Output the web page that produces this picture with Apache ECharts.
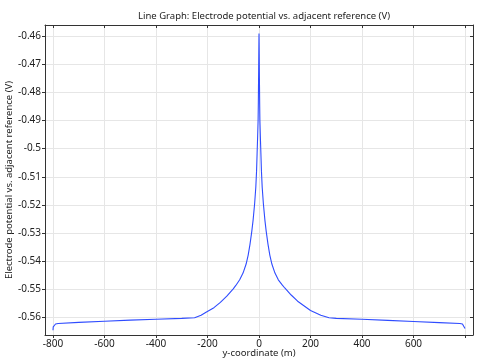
<!DOCTYPE html>
<html><head><meta charset="utf-8">
<script src="https://cdn.jsdelivr.net/npm/echarts@6/dist/echarts.min.js"></script>
<style>html,body{margin:0;padding:0;background:#fff}#c{width:480px;height:364px}</style>
</head><body><div id="c"></div>
<script>
var xValues = [-800,-799,-797,-790,-780,-700,-600,-500,-400,-300,-250,-225,-204,-175,-150,-125,-100,-90,-75,-62,-50,-42,-35,-28,-23,-17,-12.4,-9.5,-7.4,-5.2,-3.5,-2.6,-2,-1.3,-0.8,-0.4,0,0.4,0.8,1.3,2,2.6,3.5,5.2,7.4,9.5,12.4,17,23,28,35,42,50,62,75,90,100,125,150,200,240,272,300,400,500,600,700,780,790,797,800];
var potential = [-0.5645,-0.5633,-0.5626,-0.5623,-0.5621,-0.5617,-0.5613,-0.5609,-0.5606,-0.5603,-0.5601,-0.5592,-0.5580,-0.5565,-0.5546,-0.5524,-0.5498,-0.5486,-0.5466,-0.5442,-0.5410,-0.5378,-0.5340,-0.5294,-0.5255,-0.5196,-0.5137,-0.5080,-0.5018,-0.4955,-0.4900,-0.4840,-0.4782,-0.4720,-0.4664,-0.4625,-0.4591,-0.4625,-0.4664,-0.4720,-0.4782,-0.4840,-0.4900,-0.4955,-0.5018,-0.5080,-0.5137,-0.5196,-0.5255,-0.5294,-0.5340,-0.5378,-0.5410,-0.5442,-0.5466,-0.5484,-0.5495,-0.5520,-0.5542,-0.5575,-0.5592,-0.5601,-0.5603,-0.5606,-0.5610,-0.5614,-0.5618,-0.5621,-0.5623,-0.5627,-0.5639];
var xTicks = [-800,-600,-400,-200,0,200,400,600,800];
var xLabels = [-800,-600,-400,-200,0,200,400,600];
var yTicks = [-0.56,-0.55,-0.54,-0.53,-0.52,-0.51,-0.5,-0.49,-0.48,-0.47,-0.46];
var titleText = 'Line Graph: Electrode potential vs. adjacent reference (V)';
var xName = 'y-coordinate (m)';
var yName = 'Electrode potential vs. adjacent reference (V)';

var data = xValues.map(function(x,i){return [x, potential[i]];});
var font = 'Noto Sans';
var chart = echarts.init(document.getElementById('c'));
var axisLineStyle = {color:'#333', width:1};
chart.setOption({
  animation:false,
  title:{text:titleText,left:259,top:6,textAlign:'center',textStyle:{fontFamily:font,fontSize:9.5,fontWeight:'normal',color:'#222'}},
  grid:{left:45,right:7,top:25,bottom:29,containLabel:false,outerBoundsMode:'none'},
  xAxis:[{
    type:'value',min:-831,max:831,position:'bottom',
    name:xName,nameLocation:'middle',nameGap:13,nameMoveOverlap:false,nameTextStyle:{fontFamily:font,fontSize:9.5,color:'#222'},
    axisLine:{show:true,onZero:false,lineStyle:axisLineStyle},
    axisTick:{show:true,inside:false,length:3,customValues:xTicks,lineStyle:{color:'#333'}},
    axisLabel:{customValues:xLabels,fontFamily:font,fontSize:10,color:'#222',margin:4},
    splitLine:{show:true,lineStyle:{color:'#e6e6e6',width:1}}
  },{
    type:'value',min:-831,max:831,position:'top',
    axisLine:{show:true,onZero:false,lineStyle:axisLineStyle},
    axisTick:{show:true,inside:true,length:3,customValues:xTicks,lineStyle:{color:'#333'}},
    axisLabel:{show:false},splitLine:{show:false}
  }],
  yAxis:[{
    type:'value',min:-0.5662,max:-0.4561,position:'left',
    name:yName,nameLocation:'middle',nameGap:31,nameMoveOverlap:false,nameTextStyle:{fontFamily:font,fontSize:9.5,color:'#222'},
    axisLine:{show:true,onZero:false,lineStyle:axisLineStyle},
    axisTick:{show:true,inside:false,length:3,customValues:yTicks,lineStyle:{color:'#333'}},
    axisLabel:{customValues:yTicks,fontFamily:font,fontSize:10,color:'#222',margin:4,
      formatter:function(v){return String(Math.round(v*100)/100);}},
    splitLine:{show:true,lineStyle:{color:'#e6e6e6',width:1}}
  },{
    type:'value',min:-0.5662,max:-0.4561,position:'right',
    axisLine:{show:true,onZero:false,lineStyle:axisLineStyle},
    axisTick:{show:true,inside:true,length:3,customValues:yTicks,lineStyle:{color:'#333'}},
    axisLabel:{show:false},splitLine:{show:false}
  }],
  series:[{
    type:'line',data:data,xAxisIndex:0,yAxisIndex:0,showSymbol:false,smooth:false,
    lineStyle:{color:'#2f4cff',width:1.1}
  }]
});
</script></body></html>
